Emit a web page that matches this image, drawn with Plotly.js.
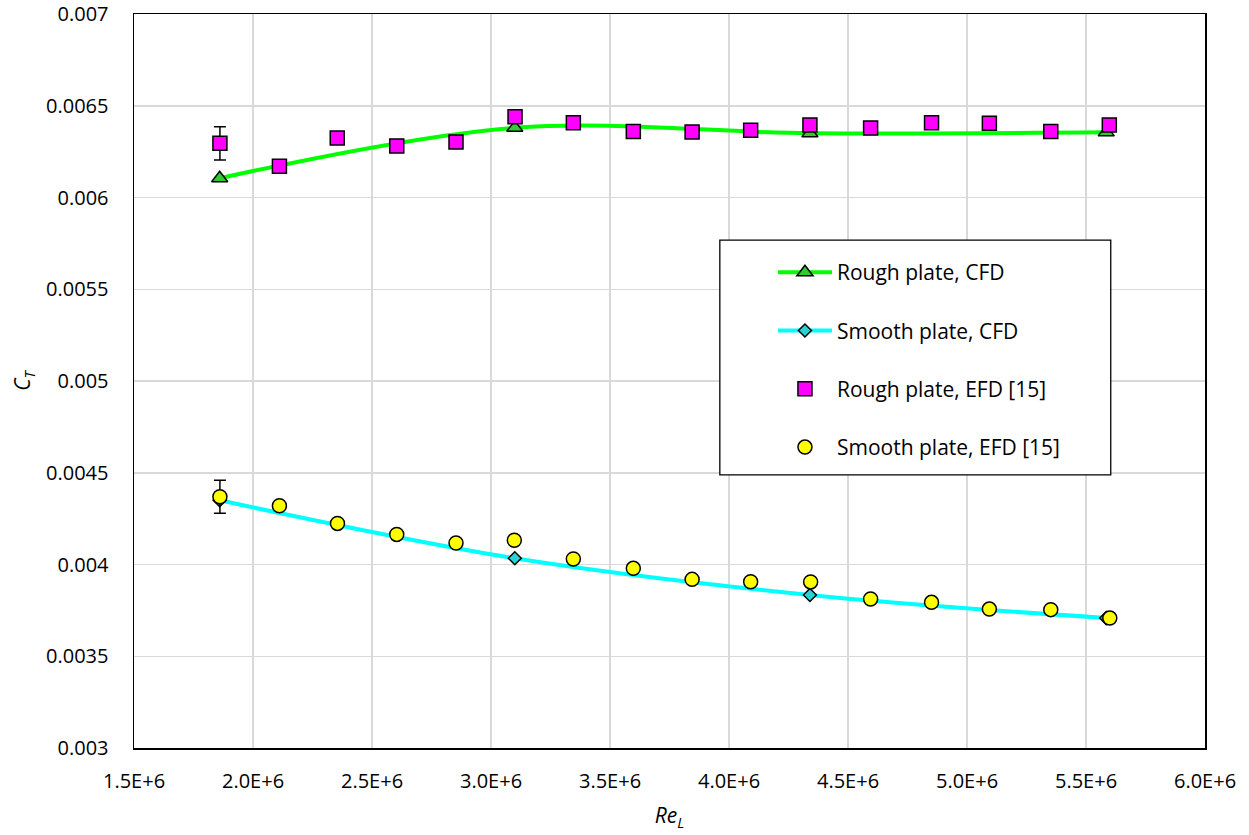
<!DOCTYPE html>
<html>
<head>
<meta charset="utf-8">
<script src="https://cdn.plot.ly/plotly-3.0.1.min.js"></script>
<style>html,body{margin:0;padding:0;background:#fff;}#chart{width:1249px;height:835px;}</style>
</head>
<body>
<div id="chart"></div>
<script>
// ---- data ----
const cfdRe = [1.86e6, 3.10e6, 4.34e6, 5.585e6];
const roughCFD = [0.006105, 0.00638, 0.00635, 0.006355];
const smoothCFD = [0.00435, 0.004034, 0.003834, 0.003708];

const roughEfdRe = [1.861e6, 2.111e6, 2.354e6, 2.604e6, 2.853e6, 3.101e6, 3.346e6, 3.598e6,
                    3.845e6, 4.091e6, 4.340e6, 4.595e6, 4.851e6, 5.094e6, 5.352e6, 5.598e6];
const roughEFD = [0.006295, 0.00617, 0.006324, 0.006281, 0.006302, 0.00644, 0.006408, 0.006359,
                  0.006357, 0.006366, 0.006395, 0.006379, 0.006408, 0.006404, 0.006359, 0.006395];

const smoothEfdRe = [1.861e6, 2.111e6, 2.355e6, 2.604e6, 2.853e6, 3.098e6, 3.346e6, 3.598e6,
                     3.845e6, 4.091e6, 4.343e6, 4.595e6, 4.851e6, 5.094e6, 5.352e6, 5.600e6];
const smoothEFD = [0.004369, 0.00432, 0.004224, 0.004164, 0.004117, 0.004132, 0.00403, 0.003979,
                   0.003919, 0.003906, 0.003905, 0.003812, 0.003794, 0.003757, 0.003754, 0.003708];

const roughErr = 0.00009;   // uncertainty on first rough EFD point
const smoothErr = 0.00009;  // uncertainty on first smooth EFD point

const xTickVals = [1.5e6, 2.0e6, 2.5e6, 3.0e6, 3.5e6, 4.0e6, 4.5e6, 5.0e6, 5.5e6, 6.0e6];
const xTickText = ['1.5E+6','2.0E+6','2.5E+6','3.0E+6','3.5E+6','4.0E+6','4.5E+6','5.0E+6','5.5E+6','6.0E+6'];
const yTickVals = [0.003, 0.0035, 0.004, 0.0045, 0.005, 0.0055, 0.006, 0.0065, 0.007];
const yTickText = ['0.003','0.0035','0.004','0.0045','0.005','0.0055','0.006','0.0065','0.007'];

const seriesNames = ['Rough plate, CFD', 'Smooth plate, CFD', 'Rough plate, EFD [15]', 'Smooth plate, EFD [15]'];

const FONT = 'Open Sans, Noto Sans, sans-serif';

const traces = [
  {
    x: cfdRe, y: roughCFD, name: seriesNames[0], legendgroup: 'a',
    type: 'scatter', mode: 'lines+markers',
    line: {color: '#00ff00', width: 4, shape: 'spline', smoothing: 1},
    marker: {symbol: 'triangle-up', size: 14, color: '#2ecc2e', line: {color: '#000', width: 1.5}}
  },
  {
    x: cfdRe, y: smoothCFD, name: seriesNames[1], legendgroup: 'b',
    type: 'scatter', mode: 'lines+markers',
    line: {color: '#00ffff', width: 4, shape: 'spline', smoothing: 1},
    marker: {symbol: 'diamond', size: 10, color: '#29d3d3', line: {color: '#000', width: 1.5}}
  },
  {
    x: [roughEfdRe[0]], y: [roughEFD[0]], type: 'scatter', mode: 'markers', showlegend: false,
    hoverinfo: 'skip', marker: {size: 1, color: 'rgba(0,0,0,0)'},
    error_y: {type: 'constant', value: roughErr, color: '#000', thickness: 1.5, width: 6}
  },
  {
    x: [smoothEfdRe[0]], y: [smoothEFD[0]], type: 'scatter', mode: 'markers', showlegend: false,
    hoverinfo: 'skip', marker: {size: 1, color: 'rgba(0,0,0,0)'},
    error_y: {type: 'constant', value: smoothErr, color: '#000', thickness: 1.5, width: 6}
  },
  {
    x: roughEfdRe, y: roughEFD, name: seriesNames[2], legendgroup: 'c',
    type: 'scatter', mode: 'markers',
    marker: {symbol: 'square', size: 14, color: '#ff00ff', line: {color: '#000', width: 1.5}}
  },
  {
    x: smoothEfdRe, y: smoothEFD, name: seriesNames[3], legendgroup: 'd',
    type: 'scatter', mode: 'markers',
    marker: {symbol: 'circle', size: 14, color: '#ffff00', line: {color: '#000', width: 1.5}}
  }
];

const layout = {
  width: 1249, height: 835,
  paper_bgcolor: '#fff', plot_bgcolor: '#fff',
  margin: {l: 134, r: 44, t: 14, b: 87, pad: 0},
  font: {family: FONT, size: 20, color: '#000'},
  showlegend: true,
  legend: {
    x: 0.5966, y: 0.6757, xanchor: 'left', yanchor: 'top',
    bgcolor: 'rgba(0,0,0,0)', borderwidth: 0,
    traceorder: 'grouped', tracegroupgap: 28, itemwidth: 54,
    font: {family: FONT, size: 21, color: '#000'}
  },
  shapes: [{
    type: 'rect', xref: 'paper', yref: 'paper', x0: 0.547, x1: 0.912, y0: 0.372, y1: 0.692,
    fillcolor: '#fff', line: {color: '#000', width: 1.3}, layer: 'above'
  }],
  xaxis: {
    range: [1.5e6, 6.0e6], tickmode: 'array', tickvals: xTickVals, ticktext: xTickText,
    showgrid: true, gridcolor: '#d9d9d9', gridwidth: 1.5, zeroline: false,
    showline: true, linecolor: '#000', linewidth: 1.5, mirror: true,
    ticks: '', ticklabelstandoff: 14,
    tickfont: {family: FONT, size: 20, color: '#000'},
    title: {text: '<i>Re<sub>L</sub></i>', font: {family: FONT, size: 21, color: '#000'}, standoff: 16},
    automargin: false
  },
  yaxis: {
    range: [0.003, 0.007], tickmode: 'array', tickvals: yTickVals, ticktext: yTickText,
    showgrid: true, gridcolor: '#d9d9d9', gridwidth: 1.5, zeroline: false,
    showline: true, linecolor: '#000', linewidth: 1.5, mirror: true,
    ticks: '', ticklabelstandoff: 20,
    tickfont: {family: FONT, size: 20, color: '#000'},
    title: {text: '<i>C<sub>T</sub></i>', font: {family: FONT, size: 21, color: '#000'}, standoff: 9},
    automargin: false
  }
};

Plotly.newPlot('chart', traces, layout, {displayModeBar: false, staticPlot: true});
</script>
</body>
</html>
